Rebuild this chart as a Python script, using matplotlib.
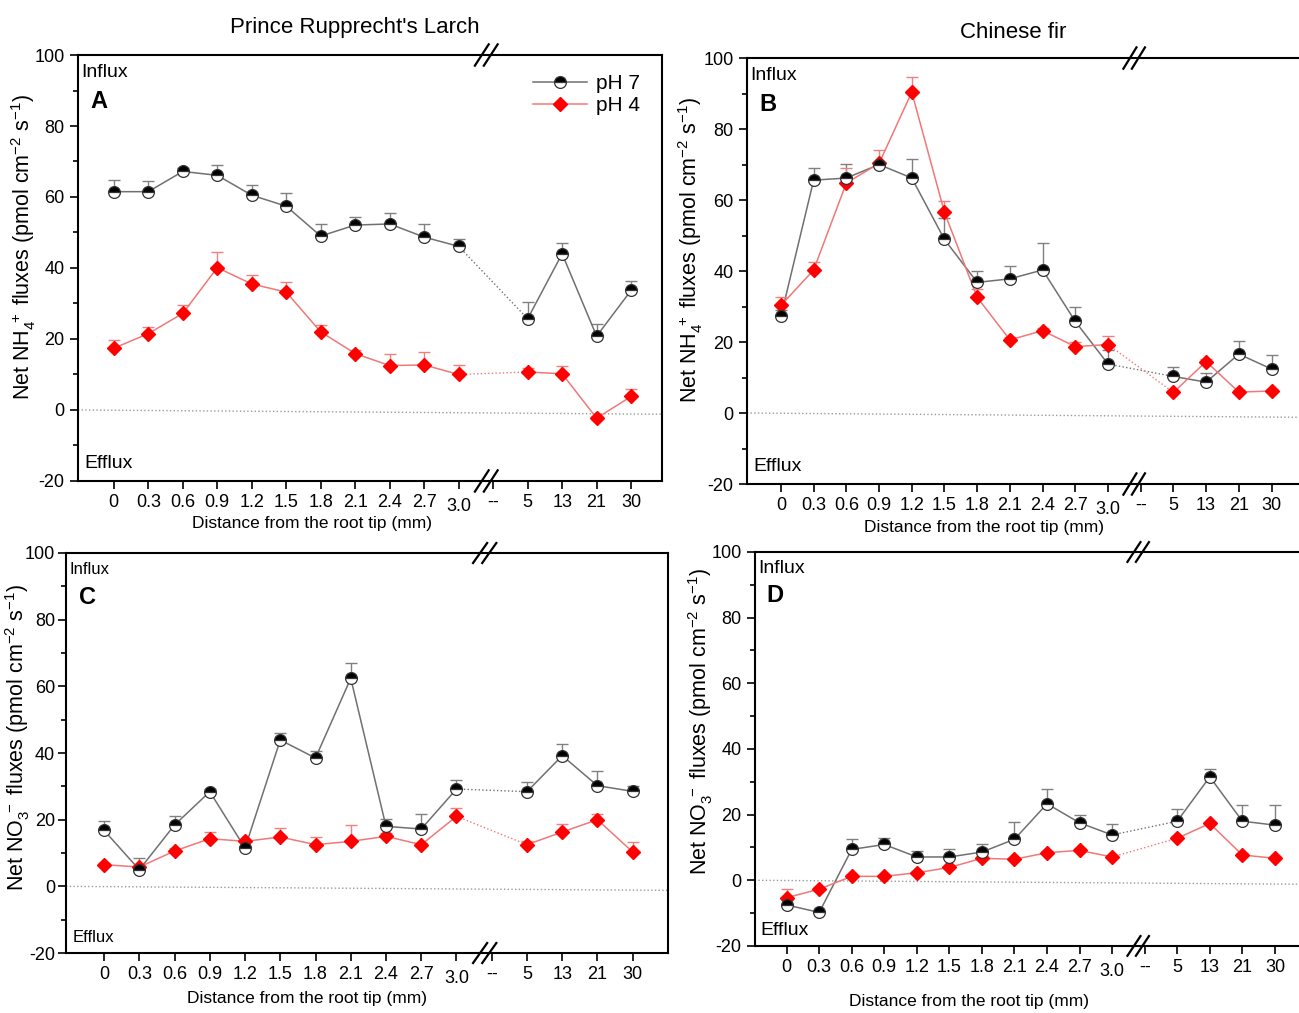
import matplotlib
matplotlib.use("Agg")
import matplotlib.pyplot as plt
import matplotlib.transforms as mtrans
import numpy as np

# ============ Data ============
distance_labels = ['0', '0.3', '0.6', '0.9', '1.2', '1.5', '1.8', '2.1', '2.4',
                   '2.7', '3.0', '--', '5', '13', '21', '30']

# Panel A: Prince Rupprecht's Larch, NH4+
a_ph7 = [61.5, 61.5, 67.2, 66.1, 60.5, 57.4, 49.0, 52.1, 52.4, 48.7, 46.1,
         25.7, 44.0, 20.8, 33.7]
a_ph7_se = [3.3, 2.9, 1.0, 2.9, 3.0, 3.8, 3.3, 2.4, 3.1, 3.6, 2.2,
            4.8, 3.1, 3.5, 2.6]
a_ph4 = [17.4, 21.5, 27.2, 40.1, 35.5, 33.2, 22.0, 15.9, 12.5, 12.7, 10.0,
         10.7, 10.2, -2.3, 3.8]
a_ph4_se = [2.4, 1.9, 2.3, 4.4, 2.4, 2.9, 1.8, 0.9, 3.2, 3.6, 2.6,
            1.2, 2.2, 0.5, 2.2]

# Panel B: Chinese fir, NH4+
b_ph7 = [27.2, 65.6, 66.2, 70.0, 66.2, 48.9, 36.8, 37.8, 40.3, 25.8, 13.8,
         10.3, 8.7, 16.6, 12.4]
b_ph7_se = [1.8, 3.3, 3.9, 0.7, 5.5, 5.9, 3.2, 3.5, 7.5, 4.0, 4.0,
            2.6, 2.7, 3.7, 4.0]
b_ph4 = [30.3, 40.3, 64.8, 70.3, 90.4, 56.5, 32.6, 20.6, 23.2, 18.7, 19.3,
         5.8, 14.5, 5.9, 6.2]
b_ph4_se = [2.3, 2.2, 4.2, 3.7, 4.4, 3.3, 2.4, 0.9, 0.8, 1.3, 2.5,
            0.6, 0.6, 0.5, 0.5]

# Panel C: Prince Rupprecht's Larch, NO3-
c_ph7 = [16.8, 5.0, 18.4, 28.4, 11.5, 43.9, 38.5, 62.4, 18.0, 17.2, 29.2,
         28.4, 39.2, 30.2, 28.5]
c_ph7_se = [2.9, 3.6, 2.8, 0.8, 0.5, 2.0, 2.2, 4.7, 2.2, 4.5, 2.8,
            2.8, 3.5, 4.3, 1.5]
c_ph4 = [6.5, 5.8, 10.6, 14.3, 13.5, 14.8, 12.5, 13.5, 15.0, 12.5, 21.0,
         12.5, 16.3, 20.0, 10.3]
c_ph4_se = [0.5, 0.6, 0.9, 2.0, 0.5, 2.7, 2.3, 4.9, 1.0, 0.5, 2.6,
            1.0, 2.4, 1.7, 3.0]

# Panel D: Chinese fir, NO3-
d_ph7 = [-7.5, -9.8, 9.4, 10.9, 7.1, 7.1, 8.6, 12.5, 23.3, 17.5, 13.8,
         18.0, 31.5, 18.0, 16.8]
d_ph7_se = [1.5, 0.4, 3.1, 2.0, 1.8, 2.3, 2.4, 5.2, 4.6, 2.4, 3.4,
            3.6, 2.3, 4.9, 6.0]
d_ph4 = [-5.3, -2.7, 1.2, 1.2, 2.3, 3.9, 6.7, 6.4, 8.4, 9.1, 7.1,
         12.8, 17.3, 7.7, 6.7]
d_ph4_se = [2.6, 0.6, 0.5, 0.5, 0.6, 0.5, 0.6, 0.5, 0.5, 0.6, 0.6,
            0.6, 0.6, 0.5, 0.5]

plt.rcParams['font.family'] = ['Liberation Sans', 'DejaVu Sans']
plt.rcParams['mathtext.fontset'] = 'custom'
plt.rcParams['mathtext.rm'] = 'Liberation Sans'
plt.rcParams['mathtext.it'] = 'Liberation Sans:italic'
plt.rcParams['mathtext.bf'] = 'Liberation Sans:bold'
plt.rcParams['axes.unicode_minus'] = False

x_pos = np.arange(len(distance_labels))
x_data = np.array([i for i, lab in enumerate(distance_labels) if lab != '--'])
gap = 10  # index in data arrays just before the axis break

nh4_label = r'Net NH$_4^{\ +}$ fluxes (pmol cm$^{-2}$ s$^{-1}$)'
no3_label = r'Net NO$_3^{\ -}$ fluxes (pmol cm$^{-2}$ s$^{-1}$)'

fig = plt.figure(figsize=(12.99, 10.13), dpi=100)

panels = [
    # letter, ph7, se7, ph4, se4, rect, xlim, ylabel, ylabel xy, xlabel xy, small text
    ('A', a_ph7, a_ph7_se, a_ph4, a_ph4_se, [0.060, 0.5252, 0.450, 0.4205],
     (-1.04, 15.91), nh4_label, (-0.093, 0.55), (0.40, -0.099), False),
    ('B', b_ph7, b_ph7_se, b_ph4, b_ph4_se, [0.575, 0.5222, 0.424, 0.4205],
     (-1.04, 15.8), nh4_label, (-0.102, 0.55), (0.43, -0.103), False),
    ('C', c_ph7, c_ph7_se, c_ph4, c_ph4_se, [0.0508, 0.0592, 0.4634, 0.3949],
     (-1.08, 16.0), no3_label, (-0.081, 0.54), (0.40, -0.1125), True),
    ('D', d_ph7, d_ph7_se, d_ph4, d_ph4_se, [0.581, 0.0662, 0.418, 0.3889],
     (-0.98, 15.7), no3_label, (-0.10, 0.57), (0.395, -0.140), False),
]

gray_line = '#707070'
red_line = '#f07878'
red_mark = '#ff0000'

for (letter, p7, s7, p4, s4, rect, xlim, ylab, ylab_xy, xlab_xy,
     small) in panels:
    ax = fig.add_axes(rect)

    # zero reference line
    ax.plot(xlim, [0, -1.2], ls=':', color='#9a9a9a', lw=1, zorder=1)

    for vals, se, lc, ec in [(p7, s7, gray_line, '#808080'),
                             (p4, s4, red_line, '#f08080')]:
        vals = np.array(vals)
        se = np.array(se)
        ax.errorbar(x_data, vals, yerr=[np.zeros_like(se), se], fmt='none',
                    ecolor=ec, elinewidth=1, capsize=4, capthick=1, zorder=2)
        ax.plot(x_data[:gap + 1], vals[:gap + 1], color=lc, lw=1.1, zorder=2)
        ax.plot(x_data[gap + 1:], vals[gap + 1:], color=lc, lw=1.1, zorder=2)
        ax.plot(x_data[gap:gap + 2], vals[gap:gap + 2], color=lc, lw=1,
                ls=':', zorder=2)

    ax.plot(x_data, p7, ls='none', marker='o', markersize=8.5,
            markerfacecolor='black', markerfacecoloralt='white',
            fillstyle='top', markeredgecolor='#333333', markeredgewidth=0.9,
            zorder=4)
    ax.plot(x_data, p4, ls='none', marker='D', markersize=7.5,
            color=red_mark, markeredgecolor=red_mark, zorder=3)

    if letter == 'A':
        h7, = ax.plot([], [], color=gray_line, lw=1.1, marker='o',
                      markersize=8.5, markerfacecolor='black',
                      markerfacecoloralt='white', fillstyle='top',
                      markeredgecolor='#333333', markeredgewidth=0.9)
        h4, = ax.plot([], [], color=red_line, lw=1.1, marker='D',
                      markersize=7.5, markerfacecolor=red_mark,
                      markeredgecolor=red_mark)
        ax.legend([h7, h4], ['pH 7', 'pH 4'], loc='upper right',
                  bbox_to_anchor=(0.975, 0.975), frameon=False, fontsize=15,
                  handlelength=2.6, handletextpad=0.4, labelspacing=0.15,
                  borderaxespad=0)

    ax.set_xlim(*xlim)
    ax.set_ylim(-20, 100)
    ax.set_yticks(np.arange(-20, 101, 20))
    ax.set_yticks(np.arange(-10, 100, 20), minor=True)
    ax.set_xticks(x_pos)
    ax.set_xticklabels(distance_labels)
    ax.tick_params(axis='both', which='major', direction='out', length=6,
                   width=1.2, labelsize=13)
    ax.tick_params(axis='y', which='minor', direction='out', length=3.5,
                   width=1.2)
    if small:
        ax.tick_params(axis='y', which='major', pad=2)
    for lbl in ax.get_xticklabels():
        if lbl.get_text() == '3.0':
            lbl.set_transform(lbl.get_transform() + mtrans.ScaledTranslation(
                0, -3 / 72, fig.dpi_scale_trans))

    for sp in ax.spines.values():
        sp.set_linewidth(1.5)
    if letter in ('B', 'D'):
        ax.spines['right'].set_visible(False)

    # axis break marks
    brk = mtrans.blended_transform_factory(ax.transData, ax.transAxes)
    for yb in (0, 1):
        for dx in (-0.13, 0.13):
            ax.plot([10.6 + dx, 11.0 + dx], [yb - 0.025, yb + 0.025],
                    transform=brk, color='black', lw=1.6, clip_on=False,
                    zorder=6)

    ax.set_ylabel(ylab, fontsize=15.5, va='center')
    ax.yaxis.set_label_coords(*ylab_xy)
    ax.set_xlabel('Distance from the root tip (mm)', fontsize=12.5,
                  va='center')
    ax.xaxis.set_label_coords(*xlab_xy)

    fs_io = 12 if small else 14
    ax.text(0.006, 0.958, 'Influx', transform=ax.transAxes, fontsize=fs_io,
            va='center', ha='left')
    ax.text(0.011, 0.04, 'Efflux', transform=ax.transAxes, fontsize=fs_io,
            va='center', ha='left')
    ax.text(0.022, 0.89, letter, transform=ax.transAxes, fontsize=17,
            fontweight='bold', va='center', ha='left')

fig.text(355 / 1299, 1 - 27 / 1013, "Prince Rupprecht's Larch", fontsize=16,
         ha='center', va='center')
fig.text(1013 / 1299, 1 - 32 / 1013, 'Chinese fir', fontsize=16,
         ha='center', va='center')

fig.savefig('out.png', dpi=100)
